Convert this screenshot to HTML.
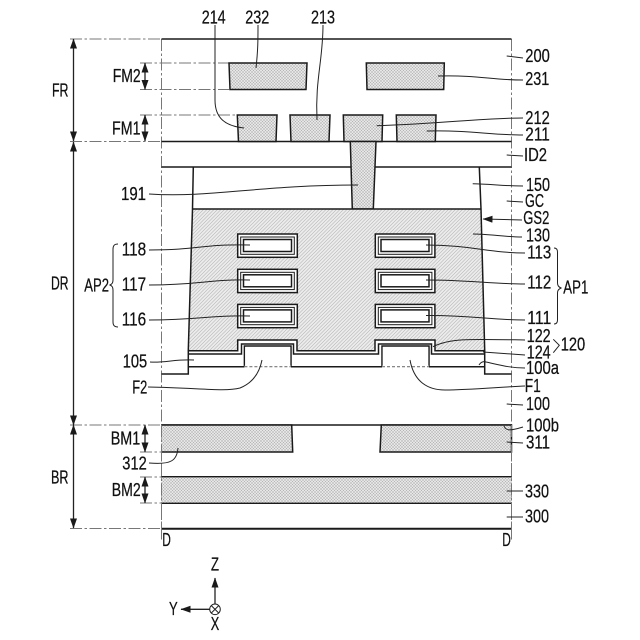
<!DOCTYPE html>
<html><head><meta charset="utf-8"><style>
html,body{margin:0;padding:0;background:#fff}
svg{display:block}
text{font-family:"Liberation Sans",sans-serif;font-size:18.5px;fill:#111;stroke:#111;stroke-width:.25}
.s{fill:none;stroke:#1a1a1a;stroke-width:1.5}
.l{fill:none;stroke:#222;stroke-width:1}
.d{fill:none;stroke:#777;stroke-width:1;stroke-dasharray:12 2.5 2.5 2.5}
.x{fill:url(#xh);stroke:#1a1a1a;stroke-width:1.5}
</style></head><body>
<svg width="640" height="640" viewBox="0 0 640 640" xmlns="http://www.w3.org/2000/svg">
<defs>
<pattern id="xh" width="3" height="3" patternUnits="userSpaceOnUse"><rect width="3" height="3" fill="#e6e6e6"/><path d="M0 0L3 3M3 0L0 3" stroke="#b4b4b4" stroke-width=".5"/></pattern>
<pattern id="dh" width="3.5" height="3.5" patternUnits="userSpaceOnUse"><rect width="3.5" height="3.5" fill="#ececec"/><path d="M-1 1L1 -1M0 3.5L3.5 0M2.5 4.5L4.5 2.5" stroke="#b4b4b4" stroke-width=".6"/></pattern>
<marker id="a" markerWidth="10" markerHeight="8" refX="9.5" refY="3.5" orient="auto-start-reverse" markerUnits="userSpaceOnUse"><path d="M0 0L10 3.5L0 7Z" fill="#1a1a1a"/></marker>
</defs>

<!-- extension lines -->
<path class="d" d="M70 39H161M70 141.5H161M70 425H161M70 528.5H161M140 63H229M140 89.5H229M140 115H237M140 452H161M140 477H161M140 503H161"/>

<!-- frame -->
<path class="d" d="M161.5 39V540M511.5 39V540" stroke-width="1"/>
<path class="s" d="M161.5 39H511.5M161.5 141.5H511.5M161.5 167H511.5M161.5 425H511.5"/>
<path class="s" d="M161.5 528.7H511.5" style="stroke-width:2"/>

<!-- FM2 -->
<path class="x" d="M229 63H307L306 89.5H230Z"/>
<path class="x" d="M366.3 63H444.3L443.7 89.5H367Z"/>
<!-- FM1 -->
<path class="x" d="M237.3 115H277L276 141.5H238.5Z"/>
<path class="x" d="M290 115H330L329 141.5H291Z"/>
<path class="x" d="M343.3 115H382.7L382 141.5H344Z"/>
<path class="x" d="M396.3 115H436L435.3 141.5H397Z"/>
<!-- via -->
<path class="x" d="M350.3 141.5H376L373.3 209H352.3Z"/>

<!-- gate -->
<path d="M192.5 209H481L484.7 350.5H435V340H375V350.5H297V340H237.5V350.5H188.5Z" fill="url(#dh)"/>
<path class="s" d="M192.5 209H481"/>
<path class="s" d="M193.3 167L192.5 209L188.3 350V374H161.5M479.3 167L481 209L484.7 350V374H511.5"/>
<path class="s" d="M188.5 350.7H237.7V340H297V350.7H375V340H435V350.7H484.5"/>
<path class="s" d="M188.5 354H241.5V344H293.5V354H378.5V344H431.5V354H484.5"/>
<path class="s" d="M188.5 366.7H244.4V346H291V366.7H382V346H429V366.7H484.7"/>
<path d="M245.2 347H290.2V366H245.2ZM382.8 347H428.2V366H382.8Z" fill="#fff"/>
<path d="M244.4 366.7H291M382 366.7H429" stroke="#fff" stroke-width="2"/>
<path d="M244.4 366.7H291M382 366.7H429" stroke="#777" stroke-width="1.2" stroke-dasharray="3 2"/>

<!-- sheets -->
<g fill="#fff" stroke="#1a1a1a">
<rect x="237.7" y="234" width="59.6" height="23.3" stroke-width="1.5"/><rect x="240.7" y="237" width="53.6" height="17.3" stroke-width="1"/><rect x="243.5" y="239.5" width="48" height="12" stroke-width="1.5"/>
<rect x="237.7" y="269.3" width="59.6" height="23.3" stroke-width="1.5"/><rect x="240.7" y="272.3" width="53.6" height="17.3" stroke-width="1"/><rect x="243.5" y="274.8" width="48" height="12" stroke-width="1.5"/>
<rect x="237.7" y="304.4" width="59.6" height="23.3" stroke-width="1.5"/><rect x="240.7" y="307.4" width="53.6" height="17.3" stroke-width="1"/><rect x="243.5" y="309.9" width="48" height="12" stroke-width="1.5"/>
<rect x="375.3" y="234" width="59.6" height="23.3" stroke-width="1.5"/><rect x="378.3" y="237" width="53.6" height="17.3" stroke-width="1"/><rect x="381" y="239.5" width="48" height="12" stroke-width="1.5"/>
<rect x="375.3" y="269.3" width="59.6" height="23.3" stroke-width="1.5"/><rect x="378.3" y="272.3" width="53.6" height="17.3" stroke-width="1"/><rect x="381" y="274.8" width="48" height="12" stroke-width="1.5"/>
<rect x="375.3" y="304.4" width="59.6" height="23.3" stroke-width="1.5"/><rect x="378.3" y="307.4" width="53.6" height="17.3" stroke-width="1"/><rect x="381" y="309.9" width="48" height="12" stroke-width="1.5"/>
</g>

<!-- backside -->
<path class="x" d="M161.5 425H291.7L292.7 452H161.5" />
<path class="x" d="M381.3 425H511.5V452H380Z" style="stroke-width:1.5"/>
<path d="M161.5 476.7H511.5M161.5 503.3H511.5" class="s"/>
<rect x="161.5" y="477.4" width="350" height="25.2" fill="url(#xh)"/>
<path class="d" d="M161.5 425V540M511.5 425V540"/>

<!-- dimension arrows -->
<g class="l" style="stroke-width:1.3">
<path d="M73.5 39V141" marker-start="url(#a)" marker-end="url(#a)"/>
<path d="M73.5 142V425" marker-start="url(#a)" marker-end="url(#a)"/>
<path d="M73.5 425V528" marker-start="url(#a)" marker-end="url(#a)"/>
<path d="M145 63V89.5" marker-start="url(#a)" marker-end="url(#a)"/>
<path d="M145 115V141" marker-start="url(#a)" marker-end="url(#a)"/>
<path d="M145 425V452" marker-start="url(#a)" marker-end="url(#a)"/>
<path d="M145 477V503" marker-start="url(#a)" marker-end="url(#a)"/>
</g>

<!-- leaders -->
<g class="l">
<path d="M215 25V100C215 118 225 126 244 128"/>
<path d="M258 25C258 40 258 50 256 68"/>
<path d="M323 25C323 60 315 80 317 120"/>
<path d="M506.7 56L523 58"/>
<path d="M438 76C480 75 490 80 523 80"/>
<path d="M376.7 125.7C440 124 480 118 523 118"/>
<path d="M426.7 131C470 130 490 135 523 135"/>
<path d="M506.7 155L523 156"/>
<path d="M472.7 183.7C490 184 505 186 523 186"/>
<path d="M506.7 201L523 202"/>
<path d="M522 220L483 219" marker-end="url(#a)"/>
<path d="M473 234C490 234 505 237 522 237"/>
<path d="M426 245C470 245 490 253 525 253"/>
<path d="M426 280C470 280 490 284 525 284"/>
<path d="M426 315.5C470 315 490 320 525 320"/>
<path d="M433 346.7C450 338 470 339 525 340"/>
<path d="M483 352L525 355"/>
<path d="M479 365C481 362 483 361 486 362C500 365 510 368 525 368"/>
<path d="M410 360C414 382 428 390 445 390C470 390 500 387 525 386"/>
<path d="M506.7 404L523 405"/>
<path d="M504 426C506 431 510 431 523 427"/>
<path d="M506.7 442L523 443"/>
<path d="M506.7 491L523 491"/>
<path d="M506.7 517L523 517"/>
<path d="M149 194C210 198 260 185 358 185"/>
<path d="M149 250C200 250 200 244 250 245"/>
<path d="M149 285C200 285 210 279 250 280"/>
<path d="M149 320C200 320 210 315 250 316"/>
<path d="M150 362C165 363 175 359 194 360"/>
<path d="M148 387C200 388 225 392 240 388C255 382 260 370 262 360"/>
<path d="M149 463C172 465 177 460 178 448"/>
<!-- braces -->
<path d="M118 244C114 244 113 246 113 249V280C113 283 112 284 110 285C112 286 113 287 113 290V322C113 325 114 327 118 327"/>
<path d="M554 248C556 248 557.5 249 557.5 252V283C557.5 286 559 287 561 288C559 289 557.5 290 557.5 293V320C557.5 323 556 324 554 324"/>
<path d="M553.3 339.3L559.3 345.3L553.3 352.7"/>
<!-- axes -->
<path d="M215 604V578" style="stroke-width:1.3" marker-end="url(#a)"/>
<path d="M210 609.3H181" style="stroke-width:1.3" marker-end="url(#a)"/>
<circle cx="215" cy="609.3" r="5.3"/>
<path d="M211.3 605.6L218.7 613M218.7 605.6L211.3 613"/>
</g>

<!-- labels -->
<text x="201.7" y="23.3" textLength="24" lengthAdjust="spacingAndGlyphs">214</text>
<text x="245.3" y="23.3" textLength="24" lengthAdjust="spacingAndGlyphs">232</text>
<text x="311" y="23.3" textLength="24" lengthAdjust="spacingAndGlyphs">213</text>
<text x="525.3" y="62" textLength="24.5" lengthAdjust="spacingAndGlyphs">200</text>
<text x="525.3" y="85" textLength="24" lengthAdjust="spacingAndGlyphs">231</text>
<text x="525.3" y="124" textLength="24.5" lengthAdjust="spacingAndGlyphs">212</text>
<text x="525.3" y="140.7" textLength="24.5" lengthAdjust="spacingAndGlyphs">211</text>
<text x="524" y="161" textLength="23" lengthAdjust="spacingAndGlyphs">ID2</text>
<text x="526" y="191" textLength="24" lengthAdjust="spacingAndGlyphs">150</text>
<text x="525" y="207" textLength="19" lengthAdjust="spacingAndGlyphs">GC</text>
<text x="523.3" y="224" textLength="26" lengthAdjust="spacingAndGlyphs">GS2</text>
<text x="526" y="241.3" textLength="24" lengthAdjust="spacingAndGlyphs">130</text>
<text x="527.3" y="258.7" textLength="24" lengthAdjust="spacingAndGlyphs">113</text>
<text x="527.3" y="288.7" textLength="24" lengthAdjust="spacingAndGlyphs">112</text>
<text x="527.3" y="324" textLength="24" lengthAdjust="spacingAndGlyphs">111</text>
<text x="563.3" y="293.7" textLength="25" lengthAdjust="spacingAndGlyphs">AP1</text>
<text x="526.7" y="342" textLength="24" lengthAdjust="spacingAndGlyphs">122</text>
<text x="526.7" y="358.7" textLength="24" lengthAdjust="spacingAndGlyphs">124</text>
<text x="560.7" y="350.7" textLength="24.5" lengthAdjust="spacingAndGlyphs">120</text>
<text x="526" y="374" textLength="33" lengthAdjust="spacingAndGlyphs">100a</text>
<text x="524.7" y="392" textLength="16" lengthAdjust="spacingAndGlyphs">F1</text>
<text x="526" y="410" textLength="24" lengthAdjust="spacingAndGlyphs">100</text>
<text x="526" y="431.3" textLength="33" lengthAdjust="spacingAndGlyphs">100b</text>
<text x="526" y="448.7" textLength="24" lengthAdjust="spacingAndGlyphs">311</text>
<text x="525" y="497.3" textLength="24" lengthAdjust="spacingAndGlyphs">330</text>
<text x="525" y="522.7" textLength="24" lengthAdjust="spacingAndGlyphs">300</text>
<text x="502.3" y="546" textLength="8.6" lengthAdjust="spacingAndGlyphs">D</text>
<text x="162.3" y="546" textLength="8.6" lengthAdjust="spacingAndGlyphs">D</text>
<text x="52" y="96.7" textLength="16.5" lengthAdjust="spacingAndGlyphs">FR</text>
<text x="51" y="289.3" textLength="17.5" lengthAdjust="spacingAndGlyphs">DR</text>
<text x="51" y="483.3" textLength="17.5" lengthAdjust="spacingAndGlyphs">BR</text>
<text x="112.7" y="82" textLength="28" lengthAdjust="spacingAndGlyphs">FM2</text>
<text x="112" y="134.3" textLength="28.5" lengthAdjust="spacingAndGlyphs">FM1</text>
<text x="121" y="200" textLength="25" lengthAdjust="spacingAndGlyphs">191</text>
<text x="121.7" y="255.3" textLength="24.5" lengthAdjust="spacingAndGlyphs">118</text>
<text x="121.7" y="290.7" textLength="24.5" lengthAdjust="spacingAndGlyphs">117</text>
<text x="121.7" y="325.7" textLength="24.5" lengthAdjust="spacingAndGlyphs">116</text>
<text x="84.3" y="291.3" textLength="24.7" lengthAdjust="spacingAndGlyphs">AP2</text>
<text x="122.7" y="367.3" textLength="24.5" lengthAdjust="spacingAndGlyphs">105</text>
<text x="132.3" y="393.3" textLength="15" lengthAdjust="spacingAndGlyphs">F2</text>
<text x="110.7" y="444.3" textLength="29.5" lengthAdjust="spacingAndGlyphs">BM1</text>
<text x="122.3" y="469.3" textLength="24.5" lengthAdjust="spacingAndGlyphs">312</text>
<text x="111.7" y="496" textLength="29" lengthAdjust="spacingAndGlyphs">BM2</text>
<text x="211" y="570.7" textLength="8" lengthAdjust="spacingAndGlyphs">Z</text>
<text x="169" y="615" textLength="8.7" lengthAdjust="spacingAndGlyphs">Y</text>
<text x="210.7" y="630" textLength="8.5" lengthAdjust="spacingAndGlyphs">X</text>
</svg>
</body></html>
